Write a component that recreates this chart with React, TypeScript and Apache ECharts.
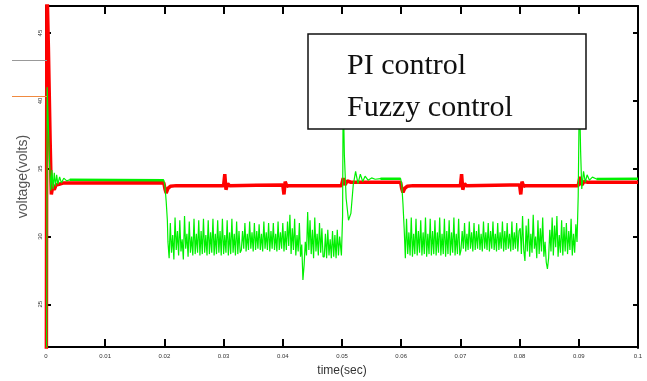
import { useEffect, useRef } from 'react';
import * as echarts from 'echarts';

// Axis ranges and tick labels
const timeRange = [0, 0.1];
const voltageRange = [21.84, 47];
const xTickLabels = ['0', '0.01', '0.02', '0.03', '0.04', '0.05', '0.06', '0.07', '0.08', '0.09', '0.1'];
const yTickValues = [25, 30, 35, 40, 45];
const legendNames = ['PI control', 'Fuzzy control'];

// PI controller output voltage: [time (s), volts]
const piControl: [number, number][] = [
  [0, 0], [0.00015, 49], [0.0004, 44], [0.0007, 37], [0.0009, 33.1], [0.0011, 33.6],
  [0.0014, 33.45], [0.0017, 33.8], [0.0022, 33.85], [0.003, 33.95], [0.0199, 33.96],
  [0.0201, 33.5], [0.0203, 33.2], [0.0206, 33.55], [0.021, 33.7], [0.022, 33.75],
  [0.03, 33.75], [0.0302, 34.6], [0.0304, 33.45], [0.0307, 33.9], [0.031, 33.75],
  [0.04, 33.8], [0.0402, 33.1], [0.0404, 34.05], [0.0407, 33.7], [0.041, 33.75],
  [0.0499, 33.75], [0.0502, 34.3], [0.0505, 33.8], [0.0509, 34.1], [0.0515, 34.0],
  [0.0599, 34.0], [0.0601, 33.5], [0.0603, 33.25], [0.0606, 33.55], [0.061, 33.7], [0.062, 33.75],
  [0.07, 33.75], [0.0702, 34.6], [0.0704, 33.45], [0.0707, 33.9], [0.071, 33.75],
  [0.08, 33.8], [0.0802, 33.1], [0.0804, 34.05], [0.0807, 33.7], [0.081, 33.75],
  [0.0899, 33.75], [0.0902, 34.4], [0.0905, 33.8], [0.0909, 34.05], [0.0915, 34.0], [0.1, 34.0],
];

// Fuzzy controller output voltage, piece by piece
const fuzzyStartup: [number, number][] = [
  [0, 0], [0.0002, 41.0], [0.0004, 38.2], [0.0006, 35.4], [0.0008, 33.4], [0.001, 34.9],
  [0.0012, 33.5], [0.0014, 34.7], [0.0016, 33.7], [0.0018, 34.55], [0.002, 33.85],
  [0.0023, 34.4], [0.0026, 33.95], [0.003, 34.3], [0.0035, 34.1], [0.004, 34.18],
  [0.0199, 34.15], [0.0201, 33.7], [0.0203, 32.6], [0.0205, 31.2],
];

// chatter under load, sampled every chatterStep seconds
const chatterStep = 0.0002;
const chatterAStart = 0.0206;
const fuzzyChatterA = [
  29.6, 28.4, 31.0, 28.8, 30.1, 28.3, 31.4, 29.0, 30.4, 28.6, 31.2, 28.9, 29.8, 28.3, 31.5, 29.1,
  30.2, 28.5, 31.1, 28.8, 30.0, 28.6,
  31.3, 28.7, 30.2, 28.8, 31.2, 28.6, 30.4, 28.7, 31.3, 28.8, 30.1, 28.6, 31.2, 28.7, 30.3, 28.8,
  31.3, 28.6, 30.2, 28.7, 31.2, 28.8, 30.4, 28.6, 31.3, 28.7, 30.1, 28.8, 31.2, 28.6, 30.3, 28.7,
  31.3, 28.8, 30.2, 28.6, 31.1, 28.7, 30.4, 28.8,
  29.0, 30.4, 29.1, 31.0, 28.9, 30.2, 29.0, 31.1, 29.1, 30.3, 28.9, 31.0, 29.0, 30.4, 29.1, 30.9,
  29.0, 30.2, 28.9, 31.1, 29.1, 30.3, 29.0, 31.0, 28.9, 30.4, 29.1, 31.0, 29.0, 30.2, 28.9, 31.1,
  29.0, 30.3, 29.1, 31.0, 28.9, 30.4, 29.0, 31.1,
  29.3, 31.6, 28.7, 30.6, 29.0, 31.3, 28.6, 30.1, 28.9, 31.0, 28.5, 29.4, 26.8, 27.9,
  29.6, 28.6, 31.8, 29.0, 31.2, 28.7, 30.5, 28.4, 31.4, 28.9, 30.2, 28.6, 31.0, 28.8, 30.6, 28.5,
  28.5, 30.2, 28.4, 30.5, 28.6, 29.8, 28.4, 30.4, 28.5, 30.1, 28.4, 30.5, 28.6, 30.0,
];

const fuzzyRecovery: [number, number][] = [
  [0.0499, 28.6], [0.0501, 31.5], [0.0502, 41.0], [0.0504, 36.0], [0.0507, 32.8], [0.0511, 31.2],
  [0.0515, 31.7], [0.0519, 33.8], [0.0523, 34.8], [0.0527, 33.9], [0.0531, 34.6], [0.0535, 34.05],
  [0.0539, 34.45], [0.0544, 34.15], [0.055, 34.32], [0.0556, 34.22], [0.0565, 34.26], [0.0599, 34.26],
  [0.0601, 33.8], [0.0603, 32.4], [0.0605, 30.6],
];

const chatterBStart = 0.0607;
const fuzzyChatterB = [
  28.4, 31.3, 28.7, 30.3, 28.6, 31.4, 28.5, 30.2, 28.7, 31.3, 28.6, 30.4, 28.8, 31.2, 28.6, 30.3,
  28.7, 31.4, 28.5, 30.2, 28.7, 31.3, 28.6, 30.4, 28.7, 31.2, 28.6, 30.3, 28.8, 31.4, 28.6, 30.2,
  28.7, 31.3, 28.5, 30.4, 28.7, 31.2, 28.6, 30.3, 28.8, 31.4, 28.6, 30.2, 28.7, 31.3, 28.6,
  29.0, 30.4, 29.1, 31.0, 28.9, 30.2, 29.0, 31.1, 29.1, 30.3, 28.9, 31.0, 29.0, 30.4, 29.1, 30.9,
  29.0, 30.2, 28.9, 31.1, 29.1, 30.3, 29.0, 31.0, 28.9, 30.4, 29.1, 31.1, 29.0, 30.2, 28.9, 31.0,
  29.0, 30.3, 29.1, 31.1, 28.9, 30.4, 29.0, 31.0, 29.1, 30.2, 28.9, 31.1, 29.0, 30.3, 29.1, 31.0,
  28.9, 30.4,
  30.6, 28.7, 31.5, 29.0, 28.2,
  30.8, 28.9, 31.3, 28.5, 30.2, 28.8, 31.6, 29.1, 30.0, 28.4, 31.2, 28.7, 30.6, 28.9, 31.4, 28.5,
  29.6, 28.1, 27.6,
  28.4, 30.5, 28.9, 31.4, 28.6, 30.8, 29.2, 31.5, 28.5, 30.1, 28.8, 31.2, 28.6, 30.7, 28.9, 31.0,
  28.7, 30.4, 29.0, 31.3, 28.6, 30.2, 28.8, 30.9,
];

const fuzzyFinal: [number, number][] = [
  [0.0897, 29.6], [0.0899, 33.0], [0.0901, 41.0], [0.0903, 36.4], [0.0905, 33.5], [0.0908, 34.8],
  [0.0911, 34.0], [0.0914, 34.55], [0.0918, 34.15], [0.0923, 34.38], [0.093, 34.24], [0.1, 34.26],
];

// windows where the fuzzy output sits at its set level (drawn with a heavier trace)
const steadyWindows = [
  [0.004, 0.0199],
  [0.0565, 0.0599],
  [0.093, 0.1],
];

const sampled = (start: number, values: number[]): [number, number][] =>
  values.map((v, i) => [+(start + i * chatterStep).toFixed(5), v]);

const fuzzyControl: [number, number][] = [
  ...fuzzyStartup,
  ...sampled(chatterAStart, fuzzyChatterA),
  ...fuzzyRecovery,
  ...sampled(chatterBStart, fuzzyChatterB),
  ...fuzzyFinal,
];

const fuzzySteady: ([number, number] | null)[] = [];
steadyWindows.forEach(([a, b], k) => {
  if (k > 0) fuzzySteady.push(null);
  fuzzyControl.forEach((p) => {
    if (p[0] >= a && p[0] <= b) fuzzySteady.push([p[0], p[1]]);
  });
});

const gridBox = { left: 46, right: 9, top: 6, bottom: 33 };

export default function App() {
  const ref = useRef<HTMLDivElement>(null);

  useEffect(() => {
    if (!ref.current) return;
    const chart = echarts.init(ref.current, undefined, { renderer: 'svg' });
    chart.setOption({
      animation: false,
      // grid 0 carries the data with bottom/left axes; grid 1 overlays it to draw the top/right frame
      grid: [{ ...gridBox }, { ...gridBox }],
      xAxis: [
        {
          type: 'value', gridIndex: 0, min: timeRange[0], max: timeRange[1], interval: 0.01,
          splitLine: { show: false },
          axisLine: { show: true, onZero: false, lineStyle: { color: '#000', width: 2 } },
          axisTick: { show: true, inside: true, length: 8, lineStyle: { color: '#000', width: 2 } },
          name: 'time(sec)', nameLocation: 'middle', nameGap: 16,
          nameTextStyle: { fontFamily: 'Liberation Sans', fontSize: 12, color: '#333' },
          axisLabel: {
            fontFamily: 'Liberation Sans', fontSize: 6, color: '#333', margin: 6,
            formatter: (v: number) => xTickLabels[Math.round(v / 0.01)] ?? '',
          },
        },
        {
          type: 'value', gridIndex: 1, position: 'top', min: timeRange[0], max: timeRange[1], interval: 0.01,
          splitLine: { show: false },
          axisLine: { show: true, onZero: false, lineStyle: { color: '#000', width: 2 } },
          axisTick: { show: true, inside: true, length: 8, lineStyle: { color: '#000', width: 2 } },
          axisLabel: { show: false },
        },
      ],
      yAxis: [
        {
          type: 'value', gridIndex: 0, min: voltageRange[0], max: voltageRange[1],
          splitLine: { show: false },
          axisLine: { show: true, onZero: false, lineStyle: { color: '#000', width: 2 } },
          axisTick: { show: true, inside: true, length: 5, customValues: yTickValues, lineStyle: { color: '#000', width: 2 } },
          name: 'voltage(volts)', nameLocation: 'middle', nameGap: 12,
          nameTextStyle: { fontFamily: 'Liberation Sans', fontSize: 14, color: '#555' },
          axisLabel: { customValues: yTickValues, fontFamily: 'Liberation Sans', fontSize: 6, color: '#333', rotate: 90, margin: 3 },
        },
        {
          type: 'value', gridIndex: 1, position: 'right', min: voltageRange[0], max: voltageRange[1],
          splitLine: { show: false },
          axisLine: { show: true, onZero: false, lineStyle: { color: '#000', width: 2 } },
          axisTick: { show: true, inside: true, length: 5, customValues: yTickValues, lineStyle: { color: '#000', width: 2 } },
          axisLabel: { show: false },
        },
      ],
      series: [
        {
          name: legendNames[0], type: 'line', data: piControl, showSymbol: false, symbol: 'none', clip: true,
          lineStyle: { color: '#ff0000', width: 3.5 }, z: 2,
        },
        {
          name: legendNames[1], type: 'line', data: fuzzyControl, showSymbol: false, symbol: 'none', clip: true,
          lineStyle: { color: '#00f000', width: 1.2 }, z: 3,
        },
        {
          name: legendNames[1], type: 'line', data: fuzzySteady, connectNulls: false, showSymbol: false,
          symbol: 'none', clip: true, lineStyle: { color: '#00f000', width: 2.5 }, z: 3,
        },
      ],
      graphic: [
        // short stray strokes left of the axis
        {
          type: 'polyline',
          shape: { points: [[12, 60.5], [47, 60.5]] },
          style: { stroke: '#999', lineWidth: 1, fill: 'none' },
          z: 50,
        },
        {
          type: 'polyline',
          shape: { points: [[12, 96.5], [47, 96.5]] },
          style: { stroke: '#f08a40', lineWidth: 1.2, fill: 'none' },
          z: 50,
        },
        // legend box
        {
          type: 'rect',
          shape: { x: 308, y: 34, width: 278, height: 95 },
          style: { fill: '#fff', stroke: '#111', lineWidth: 1.5 },
          z: 100,
        },
        {
          type: 'text', x: 347, y: 63,
          style: { text: legendNames[0], font: '30px "Liberation Serif"', fill: '#111', textVerticalAlign: 'middle' },
          z: 101,
        },
        {
          type: 'text', x: 347, y: 105,
          style: { text: legendNames[1], font: '30px "Liberation Serif"', fill: '#111', textVerticalAlign: 'middle' },
          z: 101,
        },
      ],
    });
    return () => chart.dispose();
  }, []);

  return <div ref={ref} style={{ position: 'fixed', left: 0, top: 0, width: 647, height: 381 }} />;
}
